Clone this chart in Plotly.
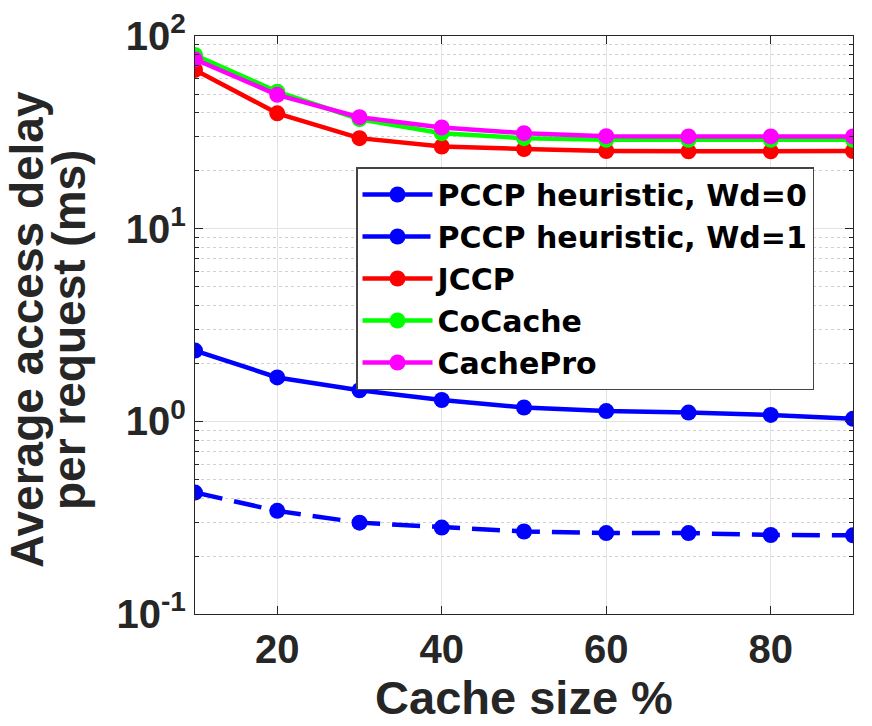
import plotly.graph_objects as go

cache_size = [10, 20, 30, 40, 50, 60, 70, 80, 90]
pccp_wd0 = [2.33, 1.69, 1.45, 1.29, 1.18, 1.13, 1.11, 1.08, 1.03]
pccp_wd1 = [0.427, 0.343, 0.298, 0.281, 0.268, 0.263, 0.263, 0.257, 0.256]
jccp = [66.7, 39.7, 29.5, 26.7, 25.9, 25.3, 25.2, 25.2, 25.3]
cocache = [79.7, 51.4, 37.0, 31.3, 29.5, 28.9, 28.9, 28.9, 28.9]
cachepro = [75.7, 49.5, 37.9, 33.5, 31.3, 30.2, 30.1, 30.1, 30.1]

series = [
    ("PCCP heuristic, Wd=0", pccp_wd0, "#0000ff", "solid"),
    ("PCCP heuristic, Wd=1", pccp_wd1, "#0000ff", "28px,12px"),
    ("JCCP", jccp, "#ff0000", "solid"),
    ("CoCache", cocache, "#00ff00", "solid"),
    ("CachePro", cachepro, "#ff00ff", "solid"),
]

y_tickvals = [0.1, 1, 10, 100]
y_ticktext = ["10<sup>-1</sup>", "10<sup>0</sup>", "10<sup>1</sup>", "10<sup>2</sup>"]
x_tickvals = [20, 40, 60, 80]
y_title_lines = ["Average access delay", "per request (ms)"]
x_title = "Cache size %"

fig = go.Figure()
for name, vals, color, dash in series:
    fig.add_trace(go.Scatter(
        x=cache_size, y=vals, name=name, mode="lines+markers",
        line=dict(color=color, width=4.5, dash=dash),
        marker=dict(color=color, size=16),
    ))

font_family = "Liberation Sans, Arial, sans-serif"
dark = "#262626"
L, R, T, B = 195, 19, 36, 112
W, H = 872, 726
pw, ph = W - L - R, H - T - B

fig.update_layout(
    width=W, height=H,
    margin=dict(l=L, r=R, t=T, b=B),
    paper_bgcolor="white", plot_bgcolor="white",
    font=dict(family=font_family, color=dark),
    showlegend=True,
    legend=dict(
        x=(356 - L) / pw, y=(T + ph - 167) / ph, xanchor="left", yanchor="top",
        bgcolor="white", bordercolor="#444444", borderwidth=1.5,
        font=dict(size=30, color="black", family="DejaVu Sans, sans-serif", weight="bold"),
        tracegroupgap=0, itemwidth=70,
    ),
    xaxis=dict(
        range=[10, 90], tickvals=x_tickvals, automargin=False,
        showgrid=True, gridcolor="#e3e3e3", gridwidth=1,
        ticks="inside", ticklen=8, tickcolor=dark,
        showline=True, linecolor=dark, linewidth=1.2, mirror="ticks",
        zeroline=False,
        tickfont=dict(size=40, weight="bold", color=dark),
        title=dict(text=x_title, font=dict(size=47, weight="bold", color=dark), standoff=4),
    ),
    yaxis=dict(
        type="log", range=[-1, 2], tickvals=y_tickvals, ticktext=y_ticktext, automargin=False,
        showgrid=True, gridcolor="#e3e3e3", gridwidth=1,
        ticks="inside", ticklen=8, tickcolor=dark,
        showline=True, linecolor=dark, linewidth=1.2, mirror="ticks",
        zeroline=False,
        tickfont=dict(size=40, weight="bold", color=dark),
        minor=dict(showgrid=True, gridcolor="#d0d0d0", griddash="dot", dtick="D1",
                   ticks="inside", ticklen=4, tickcolor=dark),
    ),
)

for txt, cx in zip(y_title_lines, [27, 69]):
    fig.add_annotation(
        text=txt, textangle=-90, showarrow=False,
        xref="paper", yref="paper",
        x=(cx - L) / pw, y=(T + ph - 330) / ph,
        xanchor="center", yanchor="middle",
        font=dict(size=46, weight="bold", color=dark, family=font_family),
    )

fig.write_html("out.html")
